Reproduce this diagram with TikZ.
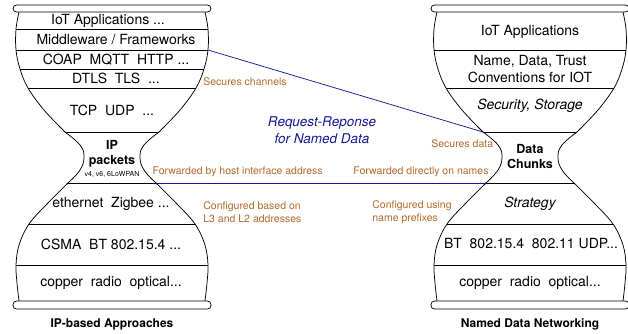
\documentclass[tikz,border=0pt]{standalone}
\usepackage{fontspec}
\setmainfont{TeX Gyre Heros}
\definecolor{notebrown}{RGB}{178,106,42}
\definecolor{linkblue}{RGB}{24,24,150}
\tikzset{
  layer/.style={font=\fontsize{14}{17}\selectfont, inner sep=0pt, align=center},
  waist/.style={font=\bfseries\fontsize{12.5}{15}\selectfont, inner sep=0pt, align=center},
  caption/.style={font=\bfseries\fontsize{12}{14}\selectfont, inner sep=0pt},
  note/.style={font=\fontsize{10.5}{12.5}\selectfont, text=notebrown, inner sep=0pt, align=left},
  vase/.pic={
    % caps
    \draw[rounded corners=3.5pt, fill=white] (-99,5) rectangle (99,12);
    \draw[rounded corners=3.5pt, fill=white] (-99,301) rectangle (99,309);
    % outline, both sides
    \foreach \s in {-1,1}{
      \draw[xscale=\s] plot[smooth, tension=0.6] coordinates
        {(-93,12) (-96,29) (-96,50) (-92,69) (-84,88) (-68,110) (-47,132)};
      \draw[xscale=\s] plot[smooth, tension=0.7] coordinates
        {(-47,132) (-32,145) (-28,157) (-32,170) (-44,183)};
      \draw[xscale=\s] plot[smooth, tension=0.6] coordinates
        {(-44,183) (-65,204) (-83,224) (-93,245) (-96,265) (-95,283) (-93,301)};
    }
    % where the layer lines meet the outline
    \foreach \y/\w in {29/96, 50/96, 69/92, 88/84, 132/47, 183/44, 224/83, 265/96}{
      \coordinate (-l\y) at (-\w,\y);
      \coordinate (-r\y) at (\w,\y);
    }
  }
}
\begin{document}
\begin{tikzpicture}[x=1pt, y=-1pt, line width=0.75pt]
  \useasboundingbox (0,0) rectangle (628,333);

  % the two hourglasses
  \pic (L) at (112,0) {vase};
  \pic (R) at (530,0) {vase};

  % layer lines
  \foreach \y in {29,50,69,88,132,183,224,265}
    \draw (L-l\y) -- (L-r\y);
  \foreach \y in {50,88,132,183,224,265}
    \draw (R-l\y) -- (R-r\y);

  % IP stack
  \node[layer] (ipapp) at (108,21) {IoT Applications ...};
  \node[layer] (ipmid) at (116,39.5) {Middleware / Frameworks};
  \node[layer] (ipcoap) at (116,59.5) {COAP\ \ MQTT\ \ HTTP ...};
  \node[layer] (ipdtls) at (116,78.5) {DTLS\ \ TLS\ \ ...};
  \node[layer] (iptcp) at (112,110) {TCP\ \ UDP\ \ ...};
  \node[waist] (ippkt) at (112,154) {IP\\packets};
  \node[font=\fontsize{7}{8}\selectfont, inner sep=0pt] (ipver) at (112,174) {v4, v6, 6LoWPAN};
  \node[layer] (ipeth) at (111,204) {ethernet\ \ Zigbee ...};
  \node[layer] (ipmac) at (111,244) {CSMA\ \ BT 802.15.4 ...};
  \node[layer] (ipphy) at (111,283) {copper\ \ radio\ \ optical...};
  \node[caption] (iptitle) at (112,324) {IP-based Approaches};

  % NDN stack
  \node[layer] (ndnapp) at (530,32) {IoT Applications};
  \node[layer] (ndnconv) at (530,69.5) {Name, Data, Trust\\Conventions for IOT};
  \node[layer, font=\itshape\fontsize{14}{17}\selectfont] (ndnsec) at (530,106) {Security, Storage};
  \node[waist] (ndndata) at (530,157) {Data\\Chunks};
  \node[layer, font=\itshape\fontsize{14}{17}\selectfont] (ndnstrat) at (530,204) {Strategy};
  \node[layer] (ndnmac) at (531,244) {BT\ \ 802.15.4\ \ 802.11 UDP...};
  \node[layer] (ndnphy) at (530,283) {copper\ \ radio\ \ optical...};
  \node[caption] (ndntitle) at (530,324) {Named Data Networking};

  % links between the stacks
  \draw[linkblue] (L-r50) -- (R-l132);
  \draw[linkblue] (L-r183) -- (R-l183);
  \node[font=\itshape\fontsize{13.5}{17}\selectfont, text=linkblue, inner sep=0pt, align=center]
    (reqrep) at (322,130.5) {Request-Reponse\\for Named Data};

  % notes
  \node[note, anchor=west] (secch) at (203,82) {Secures channels};
  \node[note, anchor=east] (fwdhost) at (323,172) {Forwarded by host interface address};
  \node[note, anchor=west] (fwdname) at (353,172) {Forwarded directly on names};
  \node[note, anchor=west] (secdata) at (431,144) {Secures data};
  \node[note, anchor=west] (cfgaddr) at (203,212) {Configured based on\\L3 and L2 addresses};
  \node[note, anchor=west] (cfgname) at (372,212) {Configured using\\name prefixes};
\end{tikzpicture}
\end{document}
